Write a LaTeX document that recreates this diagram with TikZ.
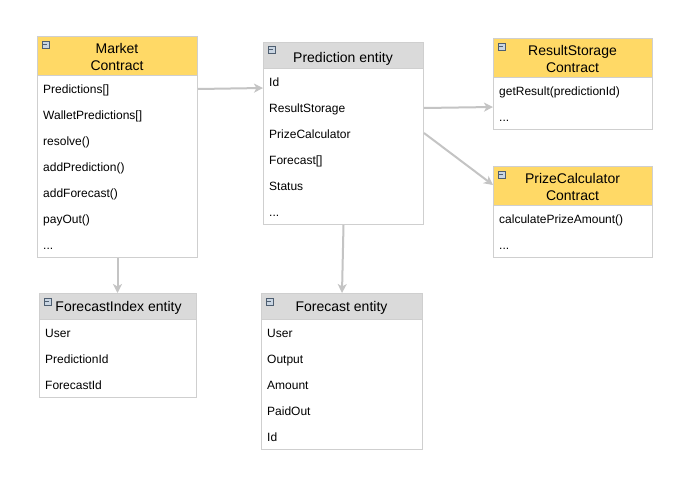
\documentclass[tikz,border=0pt]{standalone}
\usepackage{fontspec}
\setmainfont{Liberation Sans}
\usetikzlibrary{arrows.meta}
\definecolor{bordercol}{HTML}{CFCFCF}
\definecolor{headyellow}{HTML}{FFD966}
\definecolor{headgray}{HTML}{DADADA}
\definecolor{arrowcol}{HTML}{C4C4C4}
\definecolor{iconfill}{HTML}{C9D5E2}
\definecolor{iconborder}{HTML}{4E5E70}
\tikzset{
  boxbody/.style={draw=bordercol, fill=white, line width=1pt, inner sep=0pt, anchor=north west},
  yhead/.style={draw=bordercol, fill=headyellow, line width=1pt, inner sep=0pt, anchor=north west},
  ghead/.style={draw=bordercol, fill=headgray, line width=1pt, inner sep=0pt, anchor=north west},
  icon/.style={draw=iconborder, fill=iconfill, line width=0.8pt, minimum size=7pt, inner sep=0pt, anchor=north west},
  item/.style={anchor=base west, inner sep=0pt, font=\fontsize{12}{14}\selectfont, text=black},
  title/.style={anchor=north, inner sep=0pt, align=center, font=\fontsize{14}{16.7}\selectfont, text=black},
  conn/.style={draw=arrowcol, line width=2pt, -{Stealth[length=9pt,width=9pt,inset=2.5pt]}},
}
\newcommand{\iconmark}{\textcolor{iconborder}{\rule{4pt}{1pt}}}
\begin{document}
\begin{tikzpicture}[x=1pt,y=-1pt]
\useasboundingbox[fill=white] (0,0) rectangle (691,477);

% Market Contract
\node[boxbody, minimum width=160pt, minimum height=221pt] (market) at (37,36) {};
\node[yhead, minimum width=160pt, minimum height=39pt] (marketh) at (37,36) {};
\node[icon] (marketi) at (41.5,40.5) {\iconmark};
\node[title] (markett) at (117,43.5) {Market\\Contract};
\node[item] (m1) at (43,93.5) {Predictions[]};
\node[item] (m2) at (43,119.5) {WalletPredictions[]};
\node[item] (m3) at (43,145.5) {resolve()};
\node[item] (m4) at (43,171.5) {addPrediction()};
\node[item] (m5) at (43,197.5) {addForecast()};
\node[item] (m6) at (43,223.5) {payOut()};
\node[item] (m7) at (43,249.5) {...};

% Prediction entity
\node[boxbody, minimum width=160pt, minimum height=182pt] (pred) at (263,42) {};
\node[ghead, minimum width=160pt, minimum height=26pt] (predh) at (263,42) {};
\node[icon] (predi) at (267.5,45.5) {\iconmark};
\node[title] (predt) at (343,52.5) {Prediction entity};
\node[item] (p1) at (269,86.5) {Id};
\node[item] (p2) at (269,112.5) {ResultStorage};
\node[item] (p3) at (269,138.5) {PrizeCalculator};
\node[item] (p4) at (269,164.5) {Forecast[]};
\node[item] (p5) at (269,190.5) {Status};
\node[item] (p6) at (269,216.5) {...};

% ResultStorage Contract
\node[boxbody, minimum width=159pt, minimum height=91pt] (rs) at (493,38) {};
\node[yhead, minimum width=159pt, minimum height=39pt] (rsh) at (493,38) {};
\node[icon] (rsi) at (497.5,42.5) {\iconmark};
\node[title] (rst) at (572.5,45.5) {ResultStorage\\Contract};
\node[item] (r1) at (499,95.5) {getResult(predictionId)};
\node[item] (r2) at (499,121.5) {...};

% PrizeCalculator Contract
\node[boxbody, minimum width=159pt, minimum height=91pt] (pc) at (493,166) {};
\node[yhead, minimum width=159pt, minimum height=39pt] (pch) at (493,166) {};
\node[icon] (pci) at (497.5,170.5) {\iconmark};
\node[title] (pct) at (572.5,173.5) {PrizeCalculator\\Contract};
\node[item] (c1) at (499,223.5) {calculatePrizeAmount()};
\node[item] (c2) at (499,249.5) {...};

% ForecastIndex entity
\node[boxbody, minimum width=157pt, minimum height=104pt] (fi) at (39,293) {};
\node[ghead, minimum width=157pt, minimum height=26pt] (fih) at (39,293) {};
\node[icon] (fii) at (43.5,297.5) {\iconmark};
\node[title] (fit) at (118.5,301) {ForecastIndex entity};
\node[item] (f1) at (45,337.5) {User};
\node[item] (f2) at (45,363.5) {PredictionId};
\node[item] (f3) at (45,389.5) {ForecastId};

% Forecast entity
\node[boxbody, minimum width=161pt, minimum height=156pt] (fc) at (261,293) {};
\node[ghead, minimum width=161pt, minimum height=26pt] (fch) at (261,293) {};
\node[icon] (fci) at (265.5,297.5) {\iconmark};
\node[title] (fct) at (341.5,301) {Forecast entity};
\node[item] (e1) at (267,337.5) {User};
\node[item] (e2) at (267,363.5) {Output};
\node[item] (e3) at (267,389.5) {Amount};
\node[item] (e4) at (267,415.5) {PaidOut};
\node[item] (e5) at (267,441.5) {Id};

% connectors
\draw[conn] ([yshift=-53pt]market.north east) -- ([yshift=-46pt]pred.north west);
\draw[conn] ([yshift=-66pt]pred.north east) -- ([yshift=-69pt]rs.north west);
\draw[conn] ([yshift=-91pt]pred.north east) -- ([yshift=-19pt]pc.north west);
\draw[conn] (market.south) -- (market.south |- fi.north);
\draw[conn] (pred.south) -- (fc.north);
\end{tikzpicture}
\end{document}
